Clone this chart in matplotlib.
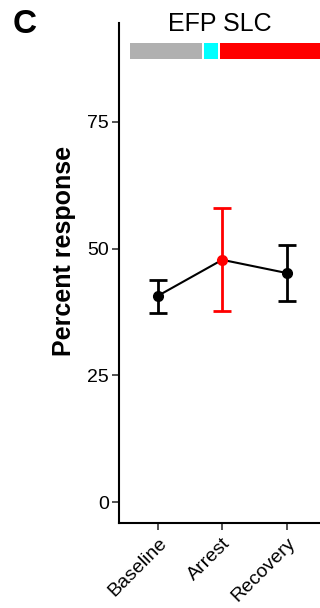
import matplotlib.pyplot as plt

plt.rcParams['font.family'] = ['Liberation Sans', 'DejaVu Sans']

# data
phases = ['Baseline', 'Arrest', 'Recovery']
means = [40.7, 47.8, 45.2]
upper = [43.8, 58.0, 50.7]
lower = [37.3, 37.7, 39.7]
point_colors = ['black', 'red', 'black']

# protocol bar above the data (x start, x end, colour)
bar_starts = [0.57, 1.71, 1.96]
bar_ends = [1.69, 1.94, 3.6]
bar_colors = ['#b0b0b0', '#00ffff', '#ff0000']

fig = plt.figure(figsize=(3.2, 6.08), dpi=100)
ax = fig.add_axes([0.373, 0.140, 0.643, 0.822])

x = [1, 2, 3]
ax.plot(x, means, color='black', lw=1.5, zorder=2)
for xi, m, hi, lo, c in zip(x, means, upper, lower, point_colors):
    ax.errorbar(xi, m, yerr=[[m - lo], [hi - m]], fmt='o', color=c, ms=7,
                ecolor=c, elinewidth=2, capsize=6.5, capthick=2, zorder=3)

for s, e, c in zip(bar_starts, bar_ends, bar_colors):
    ax.fill_between([s, e], 87.5, 90.6, color=c, lw=0, zorder=1)

ax.set_xlim(0.4, 3.6)
ax.set_ylim(-4.1, 94.5)
ax.set_yticks([0, 25, 50, 75])
ax.set_xticks(x)
ax.set_xticklabels(phases, rotation=45, ha='right', rotation_mode='anchor',
                   fontsize=14)
ax.tick_params(axis='y', labelsize=14, length=5, width=1.2, color='#333333',
               pad=2.5)
ax.tick_params(axis='x', length=5, width=1.2, color='#333333')
ax.spines['top'].set_visible(False)
ax.spines['right'].set_visible(False)
ax.spines['left'].set_linewidth(1.5)
ax.spines['bottom'].set_linewidth(1.5)
ax.set_ylabel('Percent response', fontsize=18, fontweight='bold')
ax.yaxis.set_label_coords(-0.21, 0.544)

fig.text(0.687, 0.960, 'EFP SLC', ha='center', va='center', fontsize=18)
fig.text(0.04, 0.960, 'C', ha='left', va='center', fontsize=24,
         fontweight='bold')

fig.savefig('out.png', dpi=100)
